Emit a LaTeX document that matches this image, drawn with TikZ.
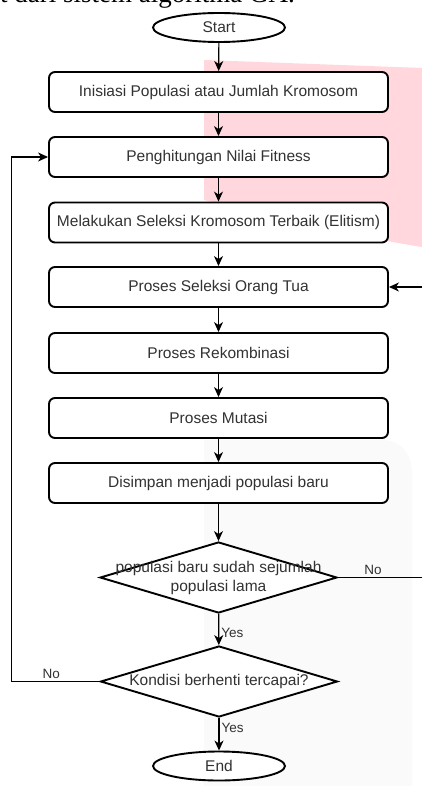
\documentclass[tikz,border=0pt]{standalone}
\usepackage{fontspec}
\setmainfont{Liberation Sans}
\newfontfamily\capfont{Liberation Serif}
\usetikzlibrary{shapes.geometric,arrows.meta}

\definecolor{pinkmark}{RGB}{255,215,220}
\definecolor{greymark}{RGB}{250,250,250}
\definecolor{ink}{RGB}{50,50,50}

\begin{document}
\begin{tikzpicture}[x=1pt,y=-1pt,
    process/.style={draw, fill=white, line width=1.9pt, rounded corners=6pt,
        minimum width=339pt, minimum height=40pt, inner sep=0pt,
        text=ink, font=\fontsize{15.5}{18}\selectfont},
    terminal/.style={draw, fill=white, ellipse, line width=1.9pt,
        minimum width=132pt, minimum height=29pt, inner sep=0pt,
        text=ink, font=\fontsize{15.5}{18}\selectfont},
    decision/.style={draw, fill=white, diamond, line width=1.9pt,
        minimum width=237pt, minimum height=71pt, inner sep=0pt},
    dtext/.style={align=center, inner sep=0pt, text=ink,
        font=\fontsize{15.5}{19}\selectfont},
    flow/.style={line width=1.2pt, -{Stealth[length=10pt,width=9pt,inset=3pt]}},
    lbl/.style={inner sep=2pt, text=ink, font=\fontsize{13.5}{15}\selectfont}]

    \useasboundingbox[fill=white] (0,0) rectangle (422,786);

    % marks of the scanned page behind the chart
    \fill[pinkmark] (204,60) -- (422,68) -- (422,247)
        .. controls (330,232) and (260,214) .. (204,200) -- cycle;
    \fill[greymark] (204,440) -- (380,440) .. controls (400,440) and (412,452) .. (412,475)
        -- (412,786) -- (204,786) -- cycle;
    \node[anchor=base west, inner sep=0pt, font=\capfont\fontsize{27}{30}\selectfont] (caption) at (0,3) {t dari sistem algoritma GA.};

    % the steps
    \node[terminal] (start) at (219,27.5) {Start};
    \node[process] (init) at (218.5,92) {Inisiasi Populasi atau Jumlah Kromosom};
    \node[process] (fitness) at (218.5,157) {Penghitungan Nilai Fitness};
    \node[process] (elitism) at (218.5,222.5) {Melakukan Seleksi Kromosom Terbaik (Elitism)};
    \node[process] (parents) at (218.5,287) {Proses Seleksi Orang Tua};
    \node[process] (crossover) at (218.5,353) {Proses Rekombinasi};
    \node[process] (mutation) at (218.5,418) {Proses Mutasi};
    \node[process] (save) at (218.5,483) {Disimpan menjadi populasi baru};

    % the two questions
    \node[decision] (full) at (218.5,577.5) {};
    \node[dtext] (fulltext) at (full) {populasi baru sudah sejumlah\\populasi lama};
    \node[decision] (stopcheck) at (219,681.5) {};
    \node[dtext] (stoptext) at (stopcheck) {Kondisi berhenti tercapai?};

    \node[terminal] (stop) at (219,766) {End};

    % the arrows
    \draw[flow] (start) -- (init);
    \draw[flow] (init) -- (fitness);
    \draw[flow] (fitness) -- (elitism);
    \draw[flow] (elitism) -- (parents);
    \draw[flow] (parents) -- (crossover);
    \draw[flow] (crossover) -- (mutation);
    \draw[flow] (mutation) -- (save);
    \draw[flow] (save) -- (full);
    \draw[flow] (full) -- node[lbl, right, pos=0.6] {Yes} (stopcheck);
    \draw[flow] (stopcheck) -- node[lbl, right, pos=0.3] {Yes} (stop);

    % the loops back
    \draw[flow] (full.east) -- node[lbl, above, pos=0.34] {No} ++(103,0) |- (parents.east);
    \draw[flow] (stopcheck.west) -- node[lbl, above, pos=0.55] {No} ++(-88,0) |- (fitness.west);

\end{tikzpicture}
\end{document}
